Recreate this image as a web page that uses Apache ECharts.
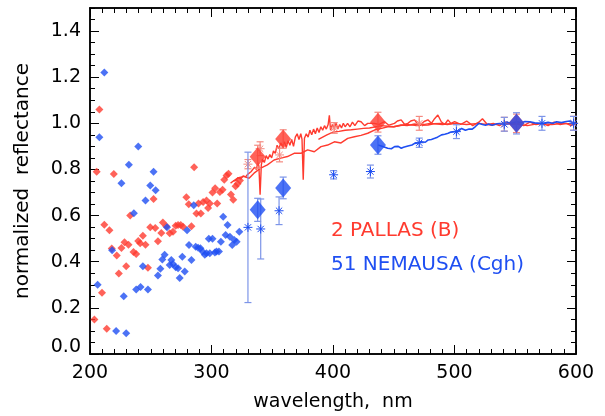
<!DOCTYPE html>
<html><head><meta charset="utf-8">
<script src="https://cdn.jsdelivr.net/npm/echarts@6/dist/echarts.min.js"></script>
<style>html,body{margin:0;padding:0;background:#fff}#c{width:605px;height:416px}</style>
</head><body><div id="c"></div>
<script>
// ---------- data ----------
const xTickLabels = ['200','300','400','500','600'];
const yTickLabels = ['0.0','0.2','0.4','0.6','0.8','1.0','1.2','1.4'];
const legendTexts = ['2 PALLAS (B)', '51 NEMAUSA (Cgh)'];

const redSmallNm  = [203.6,205.5,207.7,209.9,211.8,213.8,216.0,217.9,219.6,222.0,223.7,225.9,228.4,229.8,231.7,233.1,235.8,238.0,239.7,241.3,243.5,245.7,247.7,249.6,252.3,253.7,255.9,258.7,260.0,262.8,265.6,268.3,270.5,272.5,274.7,276.6,279.3,281.3,283.5,285.7,287.6,289.3,291.2,293.1,295.9,297.2,298.6,300.8,303.0,304.7,306.9,309.1,310.5,312.4,314.0,316.0,317.9,319.8,321.5,323.4];
const redSmallVal = [0.15,0.79,1.06,0.265,0.56,0.11,0.536,0.457,0.78,0.427,0.349,0.46,0.484,0.38,0.474,0.60,0.442,0.434,0.49,0.48,0.513,0.474,0.374,0.55,0.672,0.546,0.489,0.525,0.57,0.554,0.523,0.53,0.556,0.559,0.559,0.552,0.68,0.649,0.554,0.81,0.609,0.652,0.609,0.659,0.666,0.633,0.652,0.70,0.719,0.652,0.702,0.712,0.755,0.774,0.781,0.692,0.669,0.727,0.738,0.752];

const blueSmallNm  = [206.3,207.7,211.8,218.2,221.5,225.9,227.8,229.8,232.0,236.1,238.0,239.7,241.6,243.5,245.7,247.7,249.6,252.3,254.0,255.9,257.9,259.5,261.4,263.4,265.6,266.9,268.3,270.5,272.5,273.8,276.0,278.0,279.9,281.5,283.5,285.4,287.0,289.0,290.9,292.6,294.5,295.9,297.8,298.6,300.8,302.8,304.1,306.1,307.7,309.6,311.6,313.2,315.2,317.1,318.7,320.7,322.9];
const blueSmallVal = [0.30,0.94,1.22,0.45,0.10,0.74,0.25,0.09,0.82,0.61,0.28,0.90,0.29,0.38,0.665,0.28,0.73,0.79,0.71,0.34,0.37,0.41,0.43,0.55,0.386,0.408,0.39,0.376,0.372,0.329,0.422,0.358,0.537,0.473,0.408,0.645,0.465,0.461,0.458,0.444,0.43,0.437,0.50,0.437,0.50,0.44,0.444,0.444,0.487,0.595,0.516,0.559,0.508,0.473,0.494,0.487,0.53];

// red spectrum (upper, noisy)
const redLineANm  = [318,320,322,324,326,328,330,331,332.5,334,335.5,337,338,339,340,341,342,343.5,345,346.5,348,349.5,351,352.5,354,355.5,357,358.5,360,361.5,363,364.5,366,367.5,369,370.5,372,373.5,374.5,375.5,376.5,378,379.5,381,382.5,384,385.5,387,388.5,390,391.5,393,394.5,396,397,398,399.5,401,402.5,404,405.5,407,408.5,410,412,414,416,418,420.5,423.1,426,428.6,434,438,442.4,446,450.6,453,456.1,459,461.6,464,467.1,470,472.6,475,478.1,481,483.6,486.3,489.1,492,494.6,497,500.1,505,510,515,520,523,527,532,537,542,547,552,557,562,567,572,577,582,587,592,596,600];
const redLineAVal = [0.75,0.752,0.765,0.758,0.772,0.768,0.78,0.772,0.79,0.785,0.81,0.80,0.83,0.815,0.69,0.82,0.845,0.83,0.86,0.845,0.865,0.85,0.88,0.87,0.905,0.89,0.915,0.90,0.92,0.895,0.925,0.905,0.93,0.90,0.94,0.955,0.93,0.955,0.93,0.755,0.935,0.955,0.94,0.97,0.95,0.975,0.955,0.98,0.96,0.985,0.97,0.99,0.975,0.995,1.035,0.97,0.995,0.98,1.0,0.975,0.995,0.98,1.0,0.985,1.0,0.985,1.005,0.99,1.01,1.007,0.99,1.0,1.0,0.995,1.007,0.992,1.0,1.01,1.015,0.995,1.0,1.01,1.015,0.995,0.997,1.008,1.015,1.0,1.02,1.036,1.007,0.995,1.015,1.0,1.007,0.995,1.01,0.99,1.005,1.02,0.995,1.0,0.99,1.005,0.995,1.0,0.99,1.005,0.995,1.0,0.99,1.005,0.995,1.0,0.99,1.0];
// red spectrum (middle)
const redLineCNm  = [388,395,400,405,410,415,420,425,430,440,450,460,470,480,490,500];
const redLineCVal = [0.93,0.95,0.962,0.965,0.97,0.972,0.975,0.978,0.98,0.99,0.985,0.995,0.99,1.0,0.995,1.0];
// red spectrum (lower, smooth)
const redLineBNm  = [315.7,318,321.2,326.7,330.9,335,340.5,346,351.5,357,362.5,368,373.6,379.1,384.6,390.1,395.6,401.1,406.6,412.1,417.6,423,428.6,434.1,440,445.1,450,456.1,461,467.1,472,478.1,483,489.1,494,500.1,510,520,530,540,550,560,570,580,590,600];
const redLineBVal = [0.741,0.75,0.762,0.77,0.762,0.784,0.806,0.82,0.841,0.849,0.856,0.87,0.87,0.885,0.877,0.899,0.906,0.92,0.915,0.935,0.942,0.948,0.957,0.971,0.978,0.985,0.985,0.993,0.99,0.997,0.992,0.993,0.998,1.0,0.995,1.0,0.995,1.0,0.993,1.0,0.997,0.99,1.0,0.995,1.0,0.995];

// blue spectrum
const blueLineNm  = [437,441,445,448,450.7,453.7,456.2,458,461.7,465,467.2,471,472.7,476,478.3,481,483.7,486,489.3,492,494.8,497,500.2,503,505.8,509,512,514.6,517,520,523,525.6,528,531,535,539,543,547,551,555,558,562,566,570,573,577,581,584,588,592,595,598,600];
const blueLineVal = [0.906,0.9,0.892,0.89,0.899,0.9,0.892,0.896,0.902,0.906,0.913,0.916,0.92,0.918,0.928,0.93,0.935,0.94,0.95,0.953,0.957,0.962,0.964,0.965,0.978,0.97,0.975,0.975,0.985,1.0,0.995,0.992,0.997,0.992,0.998,1.0,1.004,1.0,1.007,1.003,1.008,1.007,1.002,1.0,1.0,1.004,1.0,1.007,1.003,1.008,1.01,1.0,1.0];

// asterisks with error bars
const redStarNm  = [330,340,356,401,471,541,598];
const redStarVal = [0.823,0.89,0.863,0.98,1.0,0.996,1.0];
const redStarErr = [0.02,0.03,0.03,0.023,0.03,0.03,0.03];
const blueStarNm  = [330,340.5,355.6,400.5,430.8,471,501.6,541,572,598];
const blueStarVal = [0.549,0.542,0.621,0.777,0.791,0.916,0.964,0.996,1.0,1.0];
const blueStarErr = [0.326,0.13,0.06,0.018,0.028,0.02,0.03,0.03,0.03,0.03];

// big diamonds with error bars
const redBigNm  = [338,359,437,551];
const redBigVal = [0.855,0.932,1.005,1.0];
const redBigErr = [0.05,0.04,0.043,0.04];
const blueBigNm  = [338,359,437,551];
const blueBigVal = [0.625,0.72,0.906,1.0];
const blueBigErr = [0.05,0.047,0.04,0.046];

// ---------- chart ----------
const RED = '#ff3b2f', BLUE = '#1f4ff2';
const RED_ERR = '#f48a80', BLUE_ERR = '#7d95e8';
const FONT = 'DejaVu Sans';
const zip2 = (a,b) => a.map((v,i)=>[v,b[i]]);
const zip3 = (a,b,c) => a.map((v,i)=>[v,b[i],c[i]]);

function errItem(color, star){
  return function(params, api){
    const x = api.value(0), y = api.value(1), e = api.value(2);
    const c = api.coord([x,y]), t = api.coord([x,y+e]), b = api.coord([x,y-e]);
    const cw = 3.5, st = {stroke: color, lineWidth: 1.2};
    const ch = [
      {type:'line', shape:{x1:c[0],y1:t[1],x2:c[0],y2:b[1]}, style:st},
      {type:'line', shape:{x1:c[0]-cw,y1:t[1],x2:c[0]+cw,y2:t[1]}, style:st},
      {type:'line', shape:{x1:c[0]-cw,y1:b[1],x2:c[0]+cw,y2:b[1]}, style:st}
    ];
    if (star) {
      const r = 4.5, d = r*0.7, ss = {stroke: star, lineWidth: 1};
      ch.push({type:'line', shape:{x1:c[0]-r,y1:c[1],x2:c[0]+r,y2:c[1]}, style:ss});
      ch.push({type:'line', shape:{x1:c[0],y1:c[1]-r,x2:c[0],y2:c[1]+r}, style:ss});
      ch.push({type:'line', shape:{x1:c[0]-d,y1:c[1]-d,x2:c[0]+d,y2:c[1]+d}, style:ss});
      ch.push({type:'line', shape:{x1:c[0]-d,y1:c[1]+d,x2:c[0]+d,y2:c[1]-d}, style:ss});
    }
    return {type:'group', children: ch};
  };
}

const axisLineStyle = {color:'#000', width:1.5};
function xAx(pos, interval, len, labels){
  return {type:'value', position:pos, min:200, max:600, interval:interval,
    axisLine:{show:true, onZero:false, lineStyle:axisLineStyle},
    axisTick:{show:true, inside:true, length:len, lineStyle:{color:'#000', width:1}},
    axisLabel:{show:labels, color:'#000', fontFamily:FONT, fontSize:19, margin:10,
      formatter: v => xTickLabels[Math.round((v-200)/100)] || ''},
    splitLine:{show:false},
    name: labels ? 'wavelength,  nm' : '', nameLocation:'middle', nameGap:39,
    nameTextStyle:{color:'#000', fontFamily:FONT, fontSize:19}};
}
function yAx(pos, interval, len, labels){
  return {type:'value', position:pos, min:0, max:1.5, interval:interval,
    axisLine:{show:true, onZero:false, lineStyle:axisLineStyle},
    axisTick:{show:true, inside:true, length:len, lineStyle:{color:'#000', width:1}},
    axisLabel:{show:labels, color:'#000', fontFamily:FONT, fontSize:19, margin:9, showMaxLabel:false,
      formatter: v => { const i = Math.round(v/0.2); const s = yTickLabels[i] || '';
        return i === 0 ? '{m|' + s + '}' : s; },
      rich:{m:{fontFamily:FONT, fontSize:19, color:'#000', padding:[0,0,14,0]}}},
    splitLine:{show:false},
    name: labels ? 'normalized  reflectance' : '', nameLocation:'middle', nameGap:57, nameRotate:90,
    nameTextStyle:{color:'#000', fontFamily:FONT, fontSize:20}};
}

const option = {
  animation:false,
  backgroundColor:'#fff',
  grid:{left:90, right:29, top:8, bottom:62, containLabel:false, outerBoundsMode:'none'},
  xAxis:[xAx('bottom',100,9,true), xAx('bottom',10,5,false), xAx('top',100,9,false), xAx('top',10,5,false)],
  yAxis:[yAx('left',0.2,9,true), yAx('left',0.05,5,false), yAx('right',0.2,9,false), yAx('right',0.05,5,false)],
  graphic:[
    {type:'text', left:331, top:221, style:{text:legendTexts[0], fill:RED, font:'20px "DejaVu Sans"'}},
    {type:'text', left:331, top:255, style:{text:legendTexts[1], fill:BLUE, font:'20px "DejaVu Sans"'}}
  ],
  series:[
    {type:'line', data:zip2(redLineBNm, redLineBVal), showSymbol:false, symbol:'none', lineStyle:{color:RED, width:1.4}, z:2},
    {type:'line', data:zip2(redLineCNm, redLineCVal), showSymbol:false, symbol:'none', lineStyle:{color:RED, width:1.4}, z:2},
    {type:'line', data:zip2(redLineANm, redLineAVal), showSymbol:false, symbol:'none', lineStyle:{color:RED, width:1.4}, z:2},
    {type:'line', data:zip2(blueLineNm, blueLineVal), showSymbol:false, symbol:'none', lineStyle:{color:BLUE, width:1.6}, z:3},
    {type:'scatter', data:zip2(redSmallNm, redSmallVal), symbol:'diamond', symbolSize:8, itemStyle:{color:RED}, z:4},
    {type:'scatter', data:zip2(blueSmallNm, blueSmallVal), symbol:'diamond', symbolSize:8, itemStyle:{color:BLUE}, z:4},
    {type:'custom', data:zip3(redStarNm, redStarVal, redStarErr), renderItem:errItem(RED_ERR, RED_ERR), z:5},
    {type:'custom', data:zip3(blueStarNm, blueStarVal, blueStarErr), renderItem:errItem(BLUE_ERR, BLUE), z:5},
    {type:'custom', data:zip3(redBigNm, redBigVal, redBigErr), renderItem:errItem(RED_ERR, null), z:6},
    {type:'custom', data:zip3(blueBigNm, blueBigVal, blueBigErr), renderItem:errItem(BLUE_ERR, null), z:6},
    {type:'scatter', data:zip2(redBigNm, redBigVal), symbol:'diamond', symbolSize:[16,19], itemStyle:{color:RED}, z:7},
    {type:'scatter', data:zip2(blueBigNm, blueBigVal), symbol:'diamond', symbolSize:[16,19], itemStyle:{color:BLUE}, z:8}
  ]
};
const chart = echarts.init(document.getElementById('c'), null, {renderer:'canvas'});
chart.setOption(option);
</script></body></html>
